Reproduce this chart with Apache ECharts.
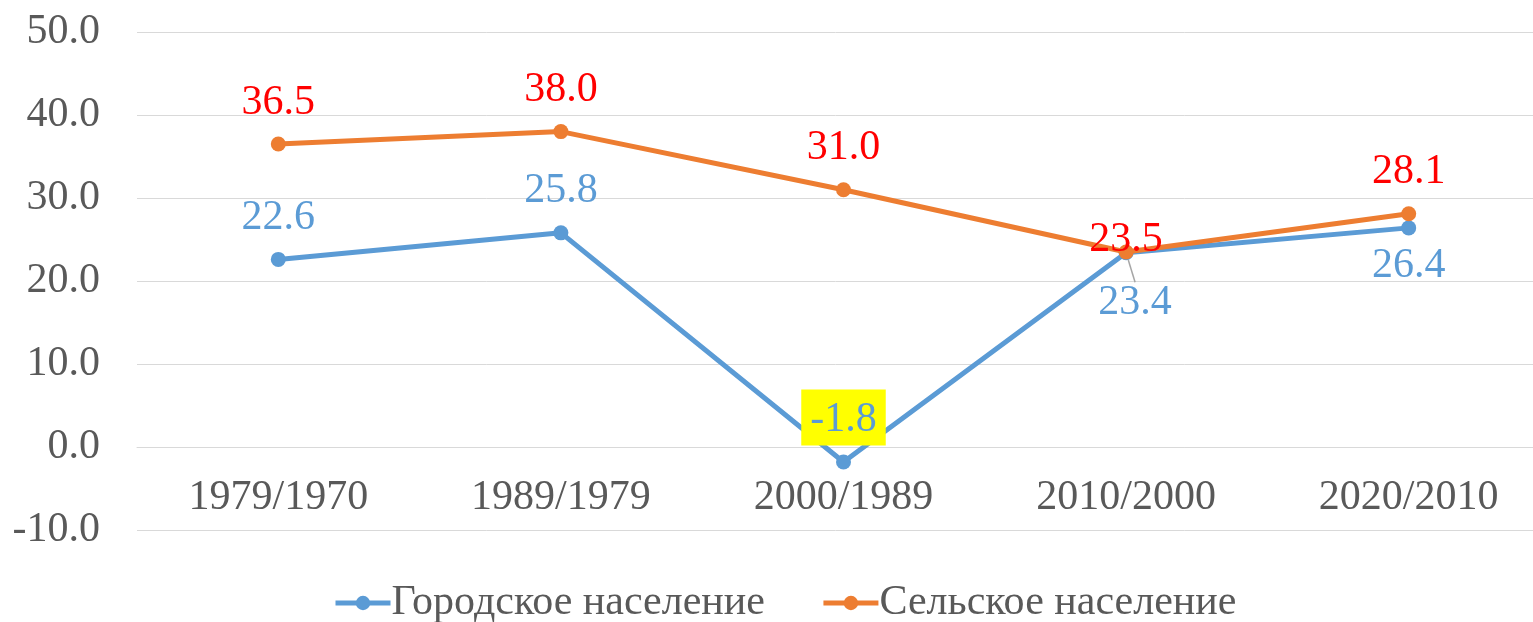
<!DOCTYPE html>
<html>
<head>
<meta charset="utf-8">
<script src="https://cdn.jsdelivr.net/npm/echarts@6/dist/echarts.min.js"></script>
<style>
  html, body { margin: 0; padding: 0; background: #fff; }
  #chart { width: 1533px; height: 622px; }
</style>
</head>
<body>
<div id="chart"></div>
<script>
const categories = ["1979/1970", "1989/1979", "2000/1989", "2010/2000", "2020/2010"];
const urban = [22.6, 25.8, -1.8, 23.4, 26.4];
const rural = [36.5, 38.0, 31.0, 23.5, 28.1];
const seriesNames = ["Городское население", "Сельское население"];

const FONT = "'Liberation Serif', 'Times New Roman', serif";
const BLUE = "#5B9BD5";
const ORANGE = "#ED7D31";

// urban labels drawn under the point
const urbanBelow = [3, 4];

const chart = echarts.init(document.getElementById("chart"));

chart.setOption({
  animation: false,
  // plot area runs a little past the right edge, like the cropped original
  grid: { left: 137, width: 1413, top: 32, height: 498, outerBoundsMode: "none" },
  legend: {
    top: 577,
    left: 328,
    itemWidth: 55,
    itemHeight: 18,
    itemGap: 56,
    lineStyle: { width: 5 },
    textStyle: { fontFamily: FONT, fontSize: 42, color: "#595959", padding: [0, 0, 0, -4] },
    data: seriesNames,
  },
  xAxis: {
    type: "category",
    data: categories,
    offset: -83,
    axisLine: { show: true, onZero: false, lineStyle: { color: "#D9D9D9", width: 1 } },
    axisTick: { show: false },
    axisLabel: { fontFamily: FONT, fontSize: 42, color: "#595959", margin: 30 },
  },
  yAxis: {
    type: "value",
    min: -10,
    max: 50,
    interval: 10,
    axisLine: { show: false },
    axisTick: { show: false },
    splitLine: { lineStyle: { color: "#D9D9D9", width: 1 } },
    axisLabel: {
      fontFamily: FONT,
      fontSize: 42,
      color: "#595959",
      margin: 37,
      formatter: (v) => v.toFixed(1),
    },
  },
  series: [
    {
      name: seriesNames[0],
      type: "line",
      data: urban.map((v, i) => {
        const item = { value: v };
        if (urbanBelow.includes(i)) item.label = { position: "bottom", distance: 10 };
        if (i === 3) item.labelLine = { show: true };
        if (v < 0) {
          item.label = {
            backgroundColor: "#FFFF00",
            padding: [10, 9, 4, 9],
            distance: 9,
          };
        }
        return item;
      }),
      symbol: "circle",
      symbolSize: 15,
      lineStyle: { color: BLUE, width: 5 },
      itemStyle: { color: BLUE },
      label: {
        show: true,
        position: "top",
        distance: 13,
        fontFamily: FONT,
        fontSize: 42,
        color: BLUE,
        formatter: (p) => p.value.toFixed(1),
      },
      labelLine: { show: false, lineStyle: { color: "#A6A6A6", width: 1.5 } },
      labelLayout: (p) => (p.dataIndex === 3 ? { dx: 9, dy: 12 } : {}),
      z: 2,
    },
    {
      name: seriesNames[1],
      type: "line",
      data: rural,
      symbol: "circle",
      symbolSize: 15,
      lineStyle: { color: ORANGE, width: 5 },
      itemStyle: { color: ORANGE },
      label: {
        show: true,
        position: "top",
        distance: 13,
        fontFamily: FONT,
        fontSize: 42,
        color: "#FF0000",
        formatter: (p) => p.value.toFixed(1),
      },
      labelLayout: (p) => (p.dataIndex === 3 ? { dy: 30 } : {}),
      z: 3,
    },
  ],
});
</script>
</body>
</html>
